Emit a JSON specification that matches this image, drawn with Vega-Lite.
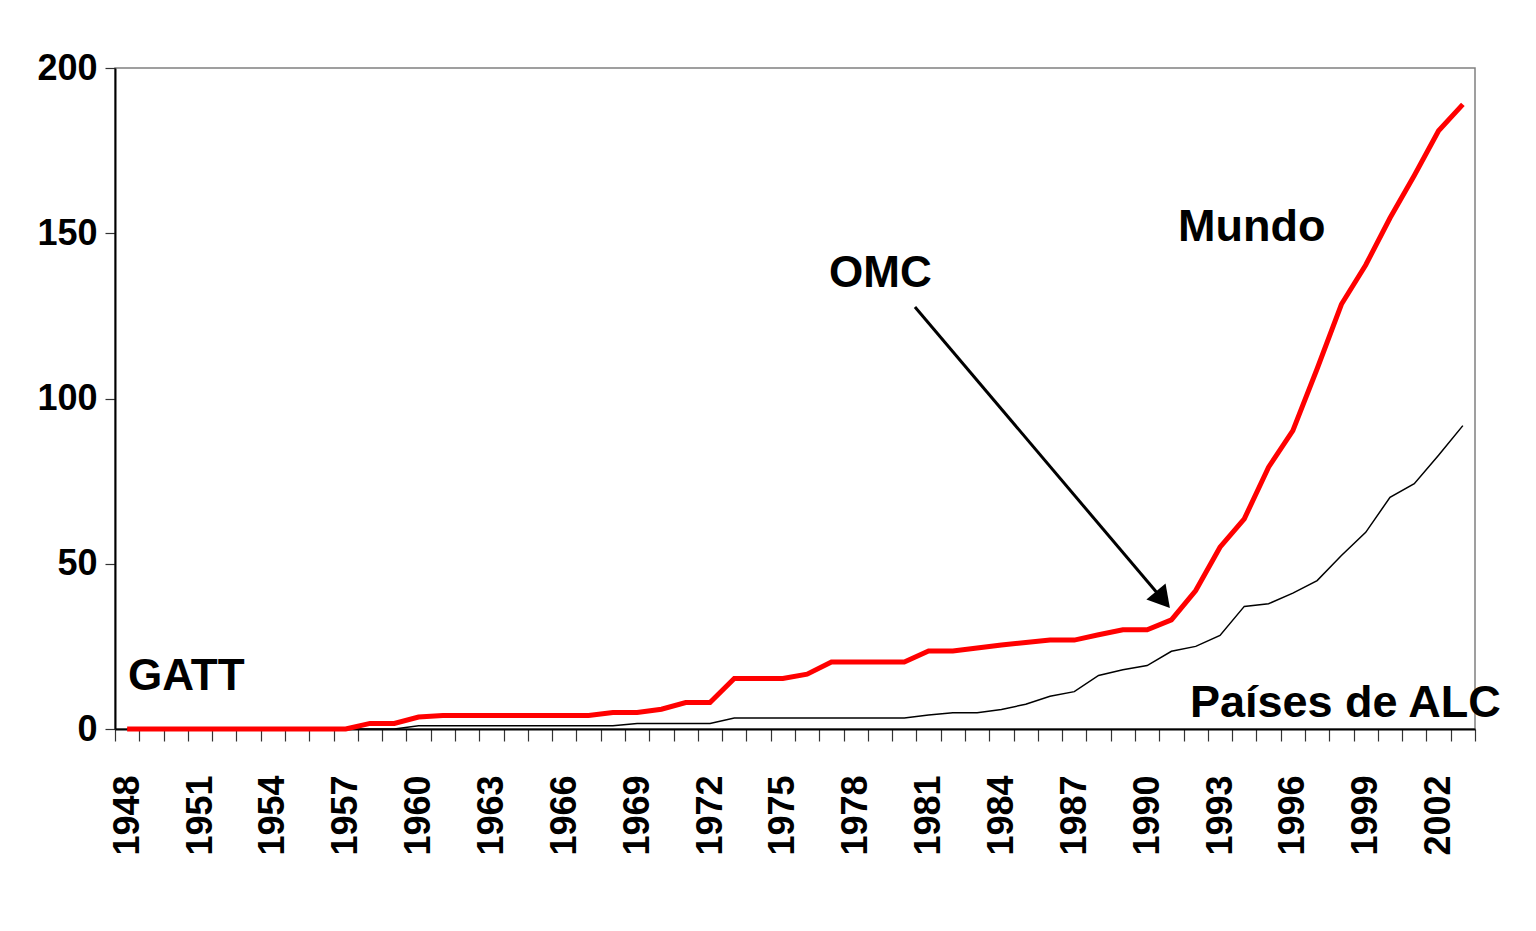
{
  "$schema": "https://vega.github.io/schema/vega-lite/v6.json",
  "width": 1360,
  "height": 661,
  "autosize": {"type": "none"},
  "padding": {"left": 115, "top": 68, "right": 61, "bottom": 202},
  "background": "white",
  "config": {
    "view": {"stroke": "#808080", "strokeWidth": 1.5},
    "font": "Liberation Sans"
  },
  "datasets": {
    "series": [
      {"year": 1948, "mundo": 0, "alc": 0},
      {"year": 1949, "mundo": 0, "alc": 0},
      {"year": 1950, "mundo": 0, "alc": 0},
      {"year": 1951, "mundo": 0, "alc": 0},
      {"year": 1952, "mundo": 0, "alc": 0},
      {"year": 1953, "mundo": 0, "alc": 0},
      {"year": 1954, "mundo": 0, "alc": 0},
      {"year": 1955, "mundo": 0, "alc": 0},
      {"year": 1956, "mundo": 0, "alc": 0},
      {"year": 1957, "mundo": 0, "alc": 0},
      {"year": 1958, "mundo": 1.7, "alc": 0},
      {"year": 1959, "mundo": 1.7, "alc": 0},
      {"year": 1960, "mundo": 3.6, "alc": 1},
      {"year": 1961, "mundo": 4.1, "alc": 1},
      {"year": 1962, "mundo": 4.1, "alc": 1},
      {"year": 1963, "mundo": 4.1, "alc": 1},
      {"year": 1964, "mundo": 4.1, "alc": 1},
      {"year": 1965, "mundo": 4.1, "alc": 1},
      {"year": 1966, "mundo": 4.1, "alc": 1},
      {"year": 1967, "mundo": 4.1, "alc": 1},
      {"year": 1968, "mundo": 5, "alc": 1},
      {"year": 1969, "mundo": 5, "alc": 1.7},
      {"year": 1970, "mundo": 6, "alc": 1.7},
      {"year": 1971, "mundo": 8, "alc": 1.7},
      {"year": 1972, "mundo": 8, "alc": 1.7},
      {"year": 1973, "mundo": 15.3, "alc": 3.3},
      {"year": 1974, "mundo": 15.3, "alc": 3.3},
      {"year": 1975, "mundo": 15.3, "alc": 3.3},
      {"year": 1976, "mundo": 16.6, "alc": 3.3},
      {"year": 1977, "mundo": 20.3, "alc": 3.3},
      {"year": 1978, "mundo": 20.3, "alc": 3.3},
      {"year": 1979, "mundo": 20.3, "alc": 3.3},
      {"year": 1980, "mundo": 20.3, "alc": 3.3},
      {"year": 1981, "mundo": 23.6, "alc": 4.2},
      {"year": 1982, "mundo": 23.6, "alc": 4.9},
      {"year": 1983, "mundo": 24.5, "alc": 4.9},
      {"year": 1984, "mundo": 25.4, "alc": 5.9},
      {"year": 1985, "mundo": 26.2, "alc": 7.5},
      {"year": 1986, "mundo": 26.9, "alc": 9.9},
      {"year": 1987, "mundo": 26.9, "alc": 11.3},
      {"year": 1988, "mundo": 28.5, "alc": 16.2},
      {"year": 1989, "mundo": 30, "alc": 17.9},
      {"year": 1990, "mundo": 30, "alc": 19.2},
      {"year": 1991, "mundo": 33, "alc": 23.5},
      {"year": 1992, "mundo": 41.9, "alc": 25},
      {"year": 1993, "mundo": 55, "alc": 28.3},
      {"year": 1994, "mundo": 63.6, "alc": 37.1},
      {"year": 1995, "mundo": 79.2, "alc": 37.9},
      {"year": 1996, "mundo": 90.3, "alc": 41.1},
      {"year": 1997, "mundo": 109, "alc": 44.9},
      {"year": 1998, "mundo": 128.5, "alc": 52.5},
      {"year": 1999, "mundo": 140.4, "alc": 59.5},
      {"year": 2000, "mundo": 154.6, "alc": 70.1},
      {"year": 2001, "mundo": 167.5, "alc": 74.2},
      {"year": 2002, "mundo": 181, "alc": 82.8},
      {"year": 2003, "mundo": 189, "alc": 91.8}
    ],
    "labels": [
      {"ax": 1948.04, "ay": 11.8, "text": "GATT", "size": 44},
      {"ax": 1976.9, "ay": 133.7, "text": "OMC", "size": 44},
      {"ax": 1991.27, "ay": 147.7, "text": "Mundo", "size": 45},
      {"ax": 1991.76, "ay": 3.6, "text": "Países de ALC", "size": 45}
    ],
    "arrow": [
      {"ax": 1980.44, "ay": 127.7, "ax2": 1990.65, "ay2": 39.1}
    ]
  },
  "layer": [
    {
      "data": {"name": "series"},
      "layer": [
        {
          "mark": {"type": "line", "color": "#000000", "strokeWidth": 1.5, "clip": false},
          "encoding": {
            "x": {
              "field": "year",
              "type": "ordinal",
              "bandPosition": 0.5,
              "scale": {"type": "band", "paddingInner": 0, "paddingOuter": 0},
              "axis": {
                "title": null,
                "tickBand": "extent",
                "labelAngle": -90,
                "labelFont": "Liberation Sans",
                "labelFontWeight": "bold",
                "labelFontSize": 36,
                "labelColor": "#000000",
                "labelPadding": 34,
                "labelExpr": "(datum.value - 1948) % 3 === 0 ? datum.label : ''",
                "tickSize": 12,
                "tickColor": "#333333",
                "tickWidth": 1.2,
                "domainColor": "#000000",
                "domainWidth": 2,
                "grid": false,
                "labelOverlap": false,
                "labelBound": false
              }
            },
            "y": {
              "field": "alc",
              "type": "quantitative",
              "scale": {"domain": [0, 200], "nice": false, "zero": true},
              "axis": {
                "title": null,
                "values": [0, 50, 100, 150, 200],
                "labelFont": "Liberation Sans",
                "labelFontWeight": "bold",
                "labelFontSize": 36,
                "labelColor": "#000000",
                "labelPadding": 8,
                "tickSize": 10,
                "tickColor": "#333333",
                "tickWidth": 1.2,
                "domainColor": "#000000",
                "domainWidth": 2,
                "grid": false,
                "labelBound": false
              }
            }
          }
        },
        {
          "mark": {"type": "line", "color": "#FF0000", "strokeWidth": 5, "clip": false},
          "encoding": {
            "x": {"field": "year", "type": "ordinal", "bandPosition": 0.5},
            "y": {"field": "mundo", "type": "quantitative"}
          }
        }
      ]
    },
    {
      "layer": [
        {
          "data": {"name": "arrow"},
          "mark": {"type": "rule", "color": "#000000", "strokeWidth": 3, "clip": false},
          "encoding": {
            "x": {"field": "ax", "type": "quantitative", "scale": {"domain": [1947.5, 2003.5], "nice": false, "zero": false}, "axis": null},
            "x2": {"field": "ax2"},
            "y": {"field": "ay", "type": "quantitative", "axis": null},
            "y2": {"field": "ay2"}
          }
        },
        {
          "data": {"name": "arrow"},
          "mark": {"type": "point", "shape": "triangle-up", "angle": 140, "size": 625, "filled": true, "color": "#000000", "opacity": 1, "clip": false},
          "encoding": {
            "x": {"field": "ax2", "type": "quantitative", "axis": null},
            "y": {"field": "ay2", "type": "quantitative", "axis": null}
          }
        },
        {
          "data": {"name": "labels"},
          "mark": {"type": "text", "align": "left", "baseline": "alphabetic", "font": "Liberation Sans", "fontWeight": "bold", "color": "#000000", "clip": false},
          "encoding": {
            "x": {"field": "ax", "type": "quantitative", "axis": null},
            "y": {"field": "ay", "type": "quantitative", "axis": null},
            "text": {"field": "text"},
            "size": {"field": "size", "type": "quantitative", "scale": null, "legend": null}
          }
        }
      ]
    }
  ],
  "resolve": {"scale": {"x": "independent", "y": "shared"}, "axis": {"x": "independent", "y": "independent"}}
}
